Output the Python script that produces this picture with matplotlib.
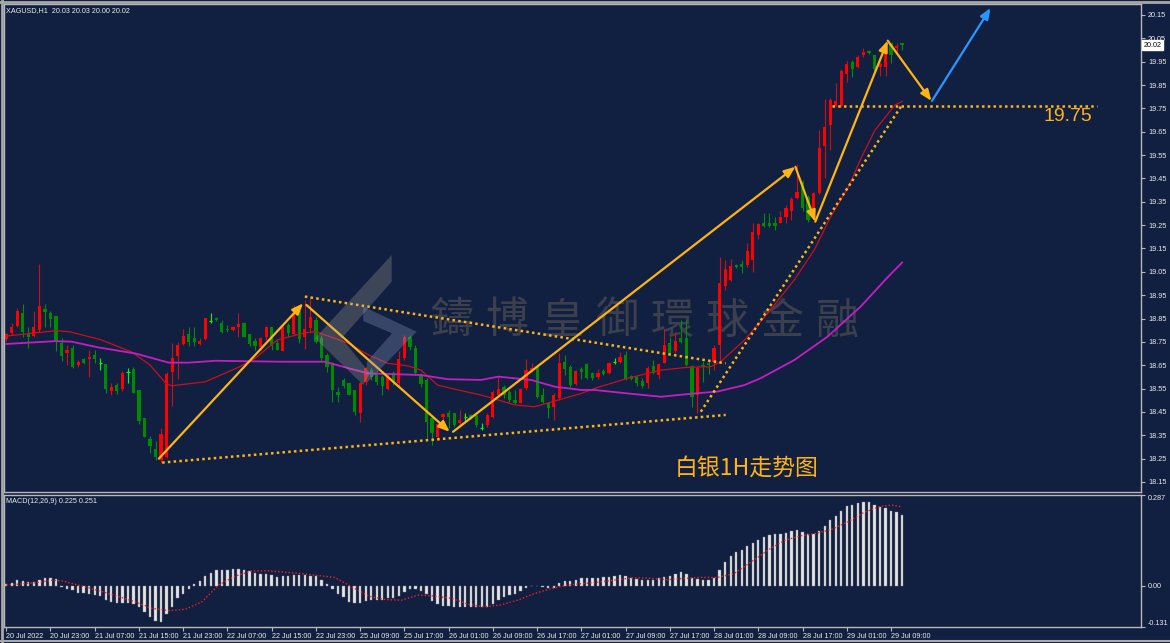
import numpy as np
import matplotlib.pyplot as plt
from matplotlib import font_manager
from matplotlib.patches import Polygon
from matplotlib.lines import Line2D
import matplotlib.transforms as mtransforms

plt.rcParams['font.family'] = ['DejaVu Sans', 'Noto Sans CJK SC']

# XAGUSD H1 candles, bar 0 = 20 Jul 15:00
opens = [18.762, 18.790, 18.818, 18.875, 18.782, 18.776, 18.800, 18.890, 18.875, 18.862,
         18.743, 18.703, 18.722, 18.650, 18.675, 18.675, 18.693, 18.662, 18.655, 18.541,
         18.565, 18.550, 18.625, 18.633, 18.543, 18.422, 18.336, 18.293, 18.244, 18.255,
         18.622, 18.689, 18.740, 18.782, 18.765, 18.740, 18.762, 18.842, 18.853, 18.832,
         18.804, 18.800, 18.815, 18.832, 18.783, 18.755, 18.729, 18.769, 18.812, 18.743,
         18.712, 18.822, 18.782, 18.884, 18.769, 18.808, 18.844, 18.765, 18.694, 18.658,
         18.537, 18.587, 18.575, 18.544, 18.444, 18.579, 18.629, 18.612, 18.601, 18.547,
         18.615, 18.572, 18.679, 18.769, 18.722, 18.608, 18.587, 18.422, 18.344, 18.427,
         18.444, 18.444, 18.401, 18.429, 18.437, 18.437, 18.385, 18.394, 18.427, 18.522,
         18.555, 18.537, 18.501, 18.490, 18.551, 18.628, 18.641, 18.522, 18.487, 18.472,
         18.508, 18.665, 18.644, 18.569, 18.632, 18.655, 18.615, 18.601, 18.627, 18.618,
         18.666, 18.665, 18.694, 18.604, 18.601, 18.584, 18.572, 18.647, 18.608, 18.658,
         18.744, 18.712, 18.765, 18.765, 18.647, 18.522, 18.651, 18.661, 18.665, 18.737,
         18.990, 19.017, 19.079, 19.082, 19.079, 19.100, 19.207, 19.260, 19.260, 19.260,
         19.260, 19.286, 19.310, 19.367, 19.436, 19.371, 19.317, 19.389, 19.589, 19.678,
         19.760, 19.760, 19.897, 19.950, 19.928, 19.978, 19.996, 19.978, 19.928, 19.928,
         20.028, 20.007, 20.030]
highs = [18.790, 18.829, 18.893, 18.912, 18.812, 18.883, 19.083, 18.912, 18.883, 18.862,
         18.765, 18.736, 18.736, 18.672, 18.680, 18.715, 18.715, 18.683, 18.655, 18.572,
         18.572, 18.625, 18.636, 18.643, 18.543, 18.426, 18.346, 18.325, 18.379, 18.622,
         18.743, 18.750, 18.803, 18.812, 18.812, 18.765, 18.853, 18.875, 18.856, 18.843,
         18.822, 18.818, 18.875, 18.836, 18.783, 18.765, 18.769, 18.818, 18.812, 18.758,
         18.818, 18.829, 18.908, 18.901, 18.930, 18.936, 18.855, 18.779, 18.704, 18.665,
         18.558, 18.594, 18.575, 18.544, 18.579, 18.644, 18.637, 18.629, 18.608, 18.615,
         18.625, 18.712, 18.779, 18.779, 18.737, 18.615, 18.594, 18.437, 18.415, 18.444,
         18.458, 18.447, 18.458, 18.444, 18.440, 18.437, 18.404, 18.444, 18.544, 18.601,
         18.565, 18.544, 18.544, 18.551, 18.675, 18.660, 18.641, 18.551, 18.494, 18.529,
         18.704, 18.694, 18.651, 18.629, 18.641, 18.661, 18.622, 18.632, 18.632, 18.665,
         18.679, 18.708, 18.712, 18.608, 18.608, 18.594, 18.647, 18.672, 18.661, 18.804,
         18.772, 18.794, 18.844, 18.844, 18.651, 18.647, 18.669, 18.669, 18.737, 19.114,
         19.100, 19.103, 19.085, 19.100, 19.172, 19.260, 19.260, 19.300, 19.300, 19.283,
         19.311, 19.336, 19.371, 19.511, 19.443, 19.379, 19.393, 19.657, 19.788, 19.793,
         19.860, 19.917, 19.953, 19.957, 19.978, 20.010, 20.000, 19.978, 19.950, 20.035,
         20.031, 20.028, 20.030]
lows = [18.755, 18.779, 18.812, 18.772, 18.722, 18.772, 18.793, 18.812, 18.812, 18.712,
        18.669, 18.650, 18.640, 18.643, 18.655, 18.600, 18.658, 18.629, 18.532, 18.522,
        18.526, 18.541, 18.572, 18.532, 18.398, 18.341, 18.272, 18.244, 18.232, 18.253,
        18.476, 18.593, 18.736, 18.732, 18.732, 18.736, 18.760, 18.829, 18.840, 18.789,
        18.793, 18.797, 18.772, 18.772, 18.732, 18.715, 18.715, 18.758, 18.715, 18.715,
        18.712, 18.772, 18.779, 18.744, 18.720, 18.787, 18.744, 18.665, 18.622, 18.494,
        18.494, 18.551, 18.522, 18.437, 18.408, 18.565, 18.587, 18.565, 18.522, 18.544,
        18.565, 18.558, 18.672, 18.715, 18.608, 18.558, 18.337, 18.308, 18.329, 18.387,
        18.380, 18.387, 18.387, 18.408, 18.420, 18.387, 18.372, 18.387, 18.422, 18.515,
        18.508, 18.494, 18.484, 18.487, 18.544, 18.620, 18.508, 18.487, 18.422, 18.415,
        18.501, 18.608, 18.558, 18.565, 18.590, 18.590, 18.587, 18.590, 18.608, 18.612,
        18.655, 18.658, 18.587, 18.587, 18.561, 18.551, 18.551, 18.612, 18.590, 18.658,
        18.698, 18.701, 18.744, 18.647, 18.472, 18.444, 18.579, 18.612, 18.629, 18.660,
        18.970, 19.010, 19.065, 19.043, 19.072, 19.050, 19.189, 19.243, 19.240, 19.229,
        19.257, 19.257, 19.271, 19.361, 19.311, 19.264, 19.271, 19.383, 19.450, 19.571,
        19.757, 19.757, 19.864, 19.883, 19.921, 19.971, 19.985, 19.911, 19.888, 19.888,
        19.946, 19.993, 20.000]
closes = [18.782, 18.815, 18.883, 18.792, 18.772, 18.815, 18.903, 18.880, 18.850, 18.753,
          18.690, 18.715, 18.643, 18.665, 18.660, 18.686, 18.675, 18.660, 18.550, 18.555,
          18.541, 18.615, 18.623, 18.533, 18.412, 18.343, 18.303, 18.255, 18.355, 18.612,
          18.683, 18.736, 18.775, 18.750, 18.750, 18.755, 18.853, 18.840, 18.843, 18.793,
          18.801, 18.815, 18.825, 18.772, 18.740, 18.732, 18.765, 18.815, 18.732, 18.715,
          18.812, 18.789, 18.875, 18.761, 18.804, 18.855, 18.751, 18.679, 18.644, 18.544,
          18.522, 18.561, 18.522, 18.451, 18.575, 18.637, 18.601, 18.579, 18.561, 18.601,
          18.572, 18.675, 18.772, 18.729, 18.615, 18.569, 18.408, 18.358, 18.398, 18.440,
          18.430, 18.394, 18.415, 18.427, 18.426, 18.394, 18.383, 18.437, 18.537, 18.547,
          18.522, 18.501, 18.490, 18.547, 18.629, 18.640, 18.515, 18.494, 18.465, 18.522,
          18.658, 18.632, 18.565, 18.627, 18.622, 18.594, 18.594, 18.615, 18.612, 18.658,
          18.664, 18.687, 18.590, 18.590, 18.575, 18.561, 18.637, 18.618, 18.655, 18.737,
          18.704, 18.754, 18.751, 18.651, 18.515, 18.637, 18.648, 18.651, 18.722, 19.000,
          19.060, 19.076, 19.072, 19.072, 19.140, 19.222, 19.254, 19.246, 19.246, 19.246,
          19.283, 19.322, 19.361, 19.391, 19.322, 19.271, 19.386, 19.581, 19.671, 19.786,
          19.783, 19.910, 19.938, 19.917, 19.968, 19.990, 19.988, 19.917, 19.938, 20.014,
          19.978, 20.017, 20.020]

# moving averages (bar index, price)
ma_fast_x = [0, 9, 11.5, 17, 22.6, 26, 29, 30, 36, 42, 45, 49, 54, 56, 61.9, 65.5, 69, 72.7, 75,
             78, 81.7, 85.9, 92, 95.5, 99.8, 104, 106.4, 112.4, 118.4, 123.2, 127.4, 129.2,
             133.5, 137.7, 142.5, 146.1, 149.1, 152.3, 154.7, 157.1, 160.7, 162]
ma_fast_y = [18.775, 18.798, 18.793, 18.760, 18.708, 18.651, 18.569, 18.562, 18.579, 18.641,
             18.679, 18.758, 18.789, 18.794, 18.744, 18.694, 18.658, 18.647, 18.629, 18.565,
             18.544, 18.522, 18.480, 18.472, 18.501, 18.529, 18.551, 18.594, 18.629, 18.641,
             18.644, 18.665, 18.758, 18.872, 19.015, 19.143, 19.286, 19.414, 19.543, 19.657,
             19.764, 19.780]
ma_slow_x = [0, 8.8, 11.8, 16.7, 23.4, 29.4, 33, 37.8, 49.8, 53.4, 57.6, 61.9, 65.5, 75, 79.9,
             85.9, 89, 94.9, 99.2, 104, 106.4, 112.4, 118.4, 124.4, 128.6, 133.5, 136.4, 142.5,
             148.5, 154.5, 159.2, 162]
ma_slow_y = [18.741, 18.753, 18.751, 18.726, 18.700, 18.661, 18.661, 18.669, 18.665, 18.665,
             18.665, 18.637, 18.615, 18.608, 18.590, 18.587, 18.601, 18.587, 18.558, 18.544,
             18.544, 18.529, 18.515, 18.529, 18.537, 18.565, 18.594, 18.672, 18.772, 18.901,
             19.022, 19.090]

# MACD(12,26,9) main histogram and signal
macd_hist = [0.005, 0.007, 0.017, 0.014, 0.012, 0.012, 0.019, 0.025, 0.025, 0.020,
             -0.004, -0.012, -0.014, -0.023, -0.023, -0.027, -0.030, -0.033, -0.046, -0.051,
             -0.056, -0.056, -0.056, -0.058, -0.069, -0.082, -0.098, -0.111, -0.114, -0.090,
             -0.069, -0.040, -0.025, -0.011, 0.004, 0.014, 0.030, 0.040, 0.049, 0.051,
             0.051, 0.054, 0.052, 0.051, 0.046, 0.040, 0.036, 0.038, 0.035, 0.028,
             0.030, 0.031, 0.035, 0.033, 0.033, 0.031, 0.030, 0.019, 0.004, -0.012,
             -0.027, -0.037, -0.051, -0.056, -0.056, -0.049, -0.046, -0.046, -0.046, -0.040,
             -0.040, -0.033, -0.019, -0.012, -0.012, -0.016, -0.027, -0.048, -0.058, -0.064,
             -0.064, -0.069, -0.069, -0.069, -0.069, -0.069, -0.069, -0.067, -0.058, -0.044,
             -0.035, -0.030, -0.025, -0.016, -0.009, -0.002, -0.001, -0.004, -0.006, -0.009,
             0.007, 0.014, 0.014, 0.019, 0.023, 0.023, 0.023, 0.025, 0.026, 0.026,
             0.030, 0.033, 0.030, 0.025, 0.020, 0.019, 0.019, 0.019, 0.023, 0.026,
             0.030, 0.038, 0.044, 0.038, 0.023, 0.020, 0.019, 0.019, 0.023, 0.049,
             0.075, 0.093, 0.106, 0.114, 0.127, 0.135, 0.143, 0.154, 0.159, 0.164,
             0.165, 0.167, 0.172, 0.175, 0.169, 0.164, 0.164, 0.172, 0.190, 0.208,
             0.222, 0.237, 0.251, 0.256, 0.262, 0.266, 0.266, 0.255, 0.248, 0.245,
             0.237, 0.232, 0.225]
sig_x = [0, 5.3, 8.3, 10.1, 14.3, 18.5, 23.3, 26.4, 29.4, 32.4, 35.4, 38.4, 41.4, 44.4, 47.4,
         53.4, 59.4, 62.5, 65.5, 68.5, 71.5, 74.5, 77.5, 80.5, 83.5, 86.5, 89.5, 92.5, 95.5,
         98.6, 101.6, 104.6, 107.6, 110.6, 113.6, 116.6, 119.6, 122.6, 125.6, 128.6, 131.6,
         134.7, 137.7, 140.7, 143.7, 146.1, 149.1, 152.1, 155.1, 158.1, 160.1, 161.8]
sig_y = [0.002, 0.009, 0.017, 0.015, -0.004, -0.025, -0.051, -0.072, -0.079, -0.075, -0.051,
         0.002, 0.030, 0.046, 0.047, 0.038, 0.026, -0.004, -0.033, -0.044, -0.046, -0.030,
         -0.033, -0.040, -0.059, -0.067, -0.061, -0.046, -0.025, -0.009, 0.002, 0.007, 0.012,
         0.019, 0.025, 0.023, 0.019, 0.023, 0.026, 0.026, 0.038, 0.075, 0.112, 0.143, 0.158,
         0.164, 0.177, 0.201, 0.232, 0.251, 0.255, 0.250]

time_labels = ['20 Jul 2022', '20 Jul 23:00', '21 Jul 07:00', '21 Jul 15:00', '21 Jul 23:00',
               '22 Jul 07:00', '22 Jul 15:00', '22 Jul 23:00', '25 Jul 09:00', '25 Jul 17:00',
               '26 Jul 01:00', '26 Jul 09:00', '26 Jul 17:00', '27 Jul 01:00', '27 Jul 09:00',
               '27 Jul 17:00', '28 Jul 01:00', '28 Jul 09:00', '28 Jul 17:00', '29 Jul 01:00',
               '29 Jul 09:00']

# drawn analysis: wave arrows, trend lines (bar index, price)
wave_arrows = [((27.6, 18.250), (53.7, 18.915)),
               ((54.3, 18.908), (80.2, 18.365)),
               ((80.8, 18.365), (142.7, 19.500)),
               ((142.7, 19.500), (146.3, 19.265)),
               ((146.3, 19.265), (159.4, 20.040)),
               ((159.4, 20.040), (167.3, 19.782))]
blue_arrow = ((167.4, 19.782), (178.0, 20.180))
trend_lines = [((28.2, 18.233), (130.1, 18.437)),
               ((54.0, 18.944), (130.1, 18.658)),
               ((125.6, 18.451), (162.0, 19.765)),
               ((149.4, 19.762), (197.3, 19.762))]
support_level = 19.75

BG = '#111f40'
ORANGE = '#ffb414'
FRAME = '#b8b8b8'
TXT = '#ececec'
W, H = 1170, 643

# narrow font for the terminal-style labels
font_names = {f.name for f in font_manager.fontManager.ttflist}
SMALL = 'Liberation Sans Narrow' if 'Liberation Sans Narrow' in font_names else 'Liberation Sans'
SMALL_SIZE = 5.8 if SMALL == 'Liberation Sans Narrow' else 5.2


def box(l, t, r, b):
    return [l / W, 1 - b / H, (r - l) / W, (b - t) / H]


fig = plt.figure(figsize=(11.7, 6.43), dpi=100, facecolor=BG)
ax = fig.add_axes(box(4, 4, 1141, 492))
ax2 = fig.add_axes(box(4, 495, 1141, 627), sharex=ax)

for a in (ax, ax2):
    a.set_facecolor(BG)
    for s in a.spines.values():
        s.set_color(FRAME)
        s.set_linewidth(1)

ax.set_xlim(-0.4, 205.2)
ax.set_ylim(18.107, 20.197)

# candles: red = up, green = down, lime = doji
x = np.arange(len(opens))
o = np.array(opens); c = np.array(closes)
diff = c - o
doji = np.abs(diff) <= 0.003
up = (diff > 0) & ~doji
dn = (diff < 0) & ~doji
wick_col = np.where(up, '#d01010', np.where(dn, '#0a8a0a', '#00ff00'))
ax.vlines(x, lows, highs, colors=wick_col, lw=0.8, zorder=2)
body_h = np.maximum(np.abs(diff), 0.003)
body_b = np.minimum(o, c)
ax.bar(x[up], body_h[up], bottom=body_b[up], width=0.58, color='#ff0000', lw=0, zorder=2.5)
ax.bar(x[dn], body_h[dn], bottom=body_b[dn], width=0.58, color='#008a00', lw=0, zorder=2.5)
ax.hlines(c[doji], x[doji] - 0.3, x[doji] + 0.3, color='#00ff00', lw=0.9, zorder=2.5)

ax.plot(ma_fast_x, ma_fast_y, color='#c8101e', lw=0.9, zorder=3)
ax.plot(ma_slow_x, ma_slow_y, color='#c21fc2', lw=1.3, zorder=3)

# watermark
wm = '鑄博皇御環球金融'
for k, ch in enumerate(wm):
    ax.text((448 + 55 * k) / 1137, (492 - 321.5) / 488, ch, transform=ax.transAxes,
            ha='center', va='center', fontsize=31, color='#3b404c',
            family='Noto Sans CJK TC', zorder=1)


def px(pts):
    return [((a - 4) / 1137, (492 - b) / 488) for a, b in pts]


ax.add_patch(Polygon(px([(391.7, 255), (391.7, 281.7), (341.7, 338.3), (370, 373.3),
                         (363.3, 385), (315, 338.3)]),
                     closed=True, transform=ax.transAxes, facecolor='#b0a898',
                     alpha=0.28, lw=0, zorder=6))
ax.add_patch(Polygon(px([(363.3, 306.7), (416.7, 331.7), (366.7, 383), (366.7, 362),
                         (392, 333.3), (363.3, 321)]),
                     closed=True, transform=ax.transAxes, facecolor='#8898c0',
                     alpha=0.32, lw=0, zorder=6))

# trend lines and waves
for (x0, y0), (x1, y1) in trend_lines:
    ax.plot([x0, x1], [y0, y1], color=ORANGE, lw=1.8, ls=(0, (1, 1.3)), zorder=4)
for (x0, y0), (x1, y1) in wave_arrows:
    ax.annotate('', xy=(x1, y1), xytext=(x0, y0), annotation_clip=False, zorder=5,
                arrowprops=dict(arrowstyle='-|>,head_length=0.55,head_width=0.22',
                                color=ORANGE, lw=1.6, mutation_scale=12,
                                shrinkA=0, shrinkB=0))
(bx0, by0), (bx1, by1) = blue_arrow
ax.annotate('', xy=(bx1, by1), xytext=(bx0, by0), annotation_clip=False, zorder=5,
            arrowprops=dict(arrowstyle='-|>,head_length=0.55,head_width=0.22',
                            color='#2a96ff', lw=1.6, mutation_scale=12,
                            shrinkA=0, shrinkB=0))

ax.text(187.5, 19.717, f'{support_level:.2f}', color=ORANGE, fontsize=14,
        family='Liberation Sans', ha='left', va='center', zorder=5)
ax.text(120.8, 18.21, '白银1H走势图', color=ORANGE, fontsize=16.5,
        family=['Noto Sans CJK SC', 'DejaVu Sans'], ha='left', va='center', zorder=5)

ax.text(0.002, 0.994, 'XAGUSD,H1  20.03 20.03 20.00 20.02', transform=ax.transAxes,
        va='top', ha='left', color=TXT, fontsize=SMALL_SIZE, family=SMALL)

# price axis
ax.yaxis.tick_right()
ax.set_yticks(np.round(np.arange(18.15, 20.16, 0.1), 2))
ax.set_yticklabels([f'{v:.2f}' for v in np.arange(18.15, 20.16, 0.1)], family=SMALL)
ax.tick_params(axis='y', direction='out', length=3, width=0.8, color=FRAME,
               labelcolor=TXT, labelsize=SMALL_SIZE, pad=2)
ax.tick_params(axis='x', bottom=False, labelbottom=False)

trans = mtransforms.blended_transform_factory(ax.transAxes, ax.transData)
ax.text(1.002, closes[-1], f'{closes[-1]:.2f}', transform=trans, ha='left', va='center',
        fontsize=SMALL_SIZE, family=SMALL, color='black', zorder=7, clip_on=False,
        bbox=dict(boxstyle='square,pad=0.2', fc='white', ec='white'))

# MACD panel
ax2.set_ylim(-0.131, 0.287)
ax2.bar(x, macd_hist, width=0.42, color='#e6e6e6', edgecolor='#8c8c8c', lw=0.3, zorder=2)
ax2.plot(sig_x, sig_y, color='#ff2020', lw=1.0, ls=(0, (1, 1.5)), zorder=3)
ax2.text(0.002, 0.975, 'MACD(12,26,9) 0.225 0.251', transform=ax2.transAxes,
         va='top', ha='left', color=TXT, fontsize=SMALL_SIZE, family=SMALL)
ax2.yaxis.tick_right()
ax2.set_yticks([0.287, 0.0, -0.131])
ax2.set_yticklabels(['0.287', '0.00', '-0.131'], family=SMALL)
ylab = ax2.get_yticklabels()
ylab[0].set_va('top')
ylab[2].set_va('bottom')
ax2.tick_params(axis='y', direction='out', length=3, width=0.8, color=FRAME,
                labelcolor=TXT, labelsize=SMALL_SIZE, pad=2)

ax2.set_xticks(np.arange(0, 8 * len(time_labels), 8))
ax2.set_xticklabels(time_labels, ha='left', family=SMALL)
ax2.tick_params(axis='x', direction='out', length=3, width=0.8, color=FRAME,
                labelcolor=TXT, labelsize=SMALL_SIZE, pad=1.5)

# window frame
fig.add_artist(Line2D([1.5 / W, 1.5 / W], [0, 1], color='#a8a8a8', lw=2))
fig.add_artist(Line2D([0, 1], [1 - 1.5 / H, 1 - 1.5 / H], color='#a8a8a8', lw=2))
fig.add_artist(Line2D([0, 1], [1 - 640.5 / H, 1 - 640.5 / H], color='#a8a8a8', lw=1.5))

fig.savefig('out.png', dpi=100, facecolor=BG)
